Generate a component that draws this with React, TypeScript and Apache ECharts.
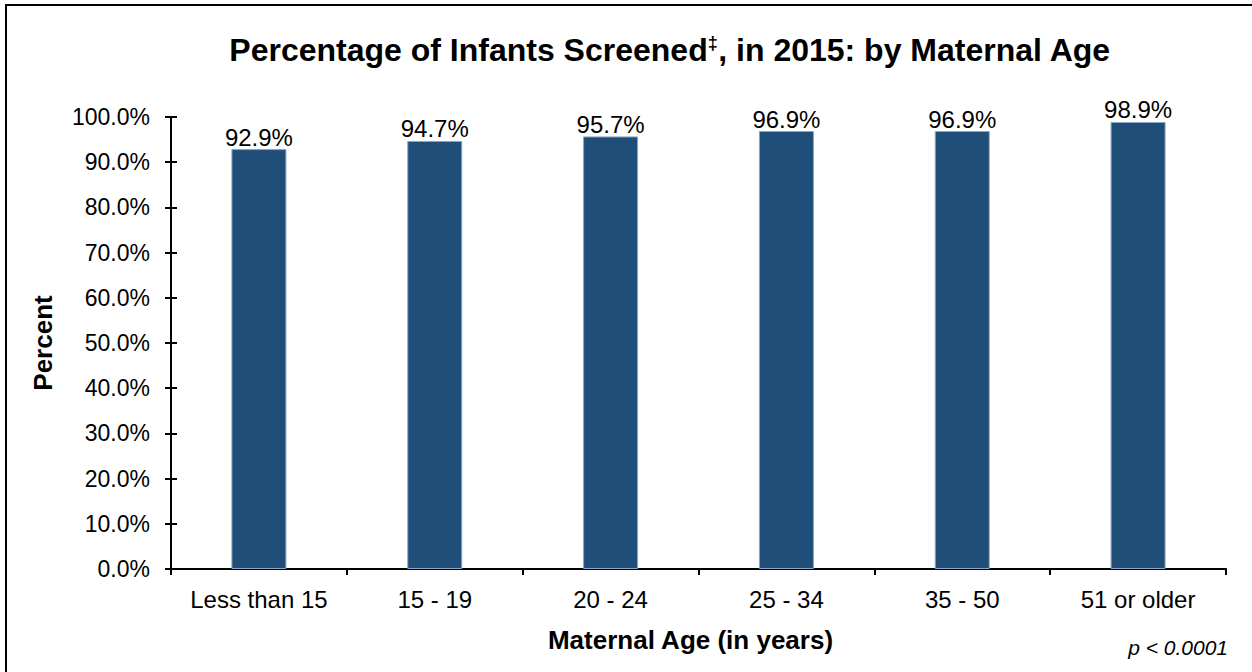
import React, { useEffect, useRef } from "react";
import * as echarts from "echarts";

const categories = ["Less than 15", "15 - 19", "20 - 24", "25 - 34", "35 - 50", "51 or older"];
const values = [92.9, 94.7, 95.7, 96.9, 96.9, 98.9];
const yMin = 0;
const yMax = 100;
const yInterval = 10;

const FONT = "Liberation Sans, Arial, sans-serif";

export default function App() {
  const ref = useRef<HTMLDivElement>(null);
  useEffect(() => {
    if (!ref.current) return;
    const chart = echarts.init(ref.current, null, { renderer: "svg" });
    const yCommon = {
      type: "value" as const,
      min: yMin,
      max: yMax,
      interval: yInterval,
      splitLine: { show: false },
    };
    chart.setOption({
      animation: false,
      backgroundColor: "#ffffff",
      textStyle: { fontFamily: FONT },
      title: {
        text: "Percentage of Infants Screened{sup|‡}, in 2015: by Maternal Age",
        left: 665,
        textAlign: "center",
        top: 29,
        textStyle: {
          fontFamily: FONT,
          fontSize: 32,
          fontWeight: "bold",
          color: "#000",
          rich: {
            sup: { fontSize: 18, fontWeight: "bold", verticalAlign: "top", color: "#000", fontFamily: FONT },
          },
        },
      },
      grid: { left: 171, right: 26, top: 117, bottom: 103, containLabel: false },
      xAxis: {
        type: "category",
        data: categories,
        axisLine: { lineStyle: { color: "#000", width: 2 } },
        axisTick: { show: true, interval: 0, alignWithLabel: false, length: 6, lineStyle: { color: "#000", width: 2 } },
        axisLabel: { color: "#000", fontSize: 24, fontFamily: FONT, margin: 18, interval: 0 },
        name: "Maternal Age (in years)",
        nameLocation: "middle",
        nameGap: 58,
        nameTextStyle: { color: "#000", fontSize: 26, fontWeight: "bold", fontFamily: FONT, padding: [0, 16, 0, 0] },
      },
      yAxis: [
        {
          ...yCommon,
          axisLine: { show: true, lineStyle: { color: "#000", width: 2 } },
          axisTick: { show: true, length: 6, lineStyle: { color: "#000", width: 2 } },
          axisLabel: {
            color: "#000",
            fontSize: 23,
            fontFamily: FONT,
            margin: 21,
            formatter: (v: number) => v.toFixed(1) + "%",
          },
          name: "Percent",
          nameLocation: "middle",
          nameGap: 115,
          nameRotate: 90,
          nameTextStyle: { color: "#000", fontSize: 26, fontWeight: "bold", fontFamily: FONT },
        },
        {
          ...yCommon,
          position: "left",
          axisLine: { show: false },
          axisTick: { show: true, inside: true, length: 6, lineStyle: { color: "#000", width: 2 } },
          axisLabel: { show: false },
        },
      ],
      series: [
        {
          type: "bar",
          data: values,
          barWidth: 55,
          itemStyle: { color: "#1F4E79", borderColor: "#8aa6c4", borderWidth: 1 },
          label: {
            show: true,
            position: "top",
            distance: 0,
            color: "#000",
            fontSize: 24,
            fontFamily: FONT,
            formatter: (p: any) => p.value.toFixed(1) + "%",
          },
        },
      ],
      graphic: [
        {
          type: "rect",
          shape: { x: 6, y: 5, width: 1400, height: 800 },
          style: { fill: "none", stroke: "#000", lineWidth: 2 },
          silent: true,
        },
        {
          type: "text",
          right: 24,
          top: 637,
          style: { text: "p < 0.0001", font: "italic 21px " + FONT, fill: "#000", textAlign: "right" },
        },
      ],
    });
    return () => chart.dispose();
  }, []);
  return <div ref={ref} style={{ position: "fixed", left: 0, top: 0, width: 1252, height: 672 }} />;
}
